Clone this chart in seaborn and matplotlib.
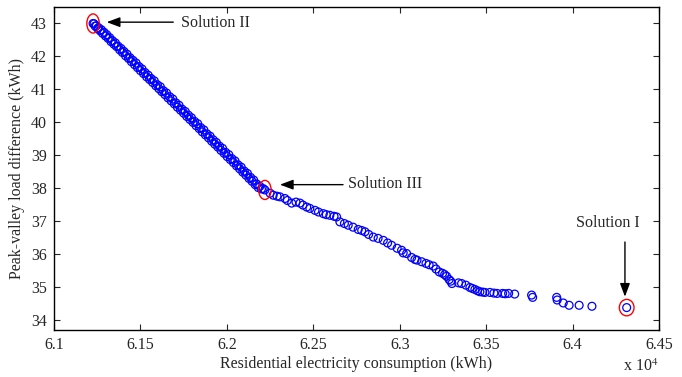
import matplotlib
matplotlib.use("Agg")
import matplotlib.pyplot as plt
from matplotlib.patches import Ellipse
import seaborn as sns
import pandas as pd

# ---- data (x in kWh, y in kWh) ----
x_dense = [61226, 61232, 61238, 61245, 61252, 61258, 61266, 61274, 61281, 61290,
           61298, 61305, 61313, 61322, 61330, 61338, 61347, 61355, 61362, 61371,
           61380, 61388, 61396, 61405, 61414, 61422, 61431, 61440, 61448, 61457,
           61466, 61475, 61483, 61492, 61500, 61509, 61518, 61527, 61536, 61545,
           61553, 61562, 61571, 61580, 61589, 61598, 61607, 61615, 61624, 61633,
           61642, 61651, 61660, 61669, 61678, 61687, 61696, 61705, 61714, 61723,
           61732, 61741, 61750, 61759, 61768, 61777, 61786, 61795, 61804, 61813,
           61822, 61831, 61840, 61849, 61858, 61867, 61876, 61885, 61894, 61903,
           61912, 61921, 61930, 61939, 61948, 61957, 61966, 61975, 61984, 61993,
           62002, 62011, 62020, 62029, 62038, 62047, 62056, 62065, 62074, 62083,
           62092, 62101, 62110, 62119, 62128, 62137, 62146, 62155, 62164, 62173,
           62182, 62191, 62200, 62210, 62220]
y_dense = [43.00, 42.99, 42.92, 42.93, 42.85, 42.87, 42.78, 42.81, 42.70, 42.73,
           42.62, 42.66, 42.55, 42.57, 42.45, 42.48, 42.37, 42.41, 42.30, 42.31,
           42.20, 42.24, 42.12, 42.15, 42.02, 42.07, 41.94, 41.96, 41.84, 41.88,
           41.75, 41.80, 41.66, 41.69, 41.57, 41.62, 41.48, 41.51, 41.38, 41.43,
           41.30, 41.33, 41.21, 41.26, 41.11, 41.14, 41.02, 41.08, 40.93, 40.96,
           40.84, 40.89, 40.74, 40.78, 40.65, 40.71, 40.56, 40.59, 40.46, 40.52,
           40.37, 40.40, 40.28, 40.33, 40.18, 40.22, 40.09, 40.14, 40.00, 40.03,
           39.90, 39.96, 39.81, 39.84, 39.71, 39.77, 39.62, 39.65, 39.53, 39.58,
           39.43, 39.47, 39.34, 39.39, 39.25, 39.28, 39.15, 39.21, 39.06, 39.09,
           38.96, 39.02, 38.87, 38.90, 38.78, 38.83, 38.68, 38.71, 38.59, 38.64,
           38.49, 38.52, 38.40, 38.45, 38.30, 38.33, 38.21, 38.25, 38.11, 38.13,
           38.02, 38.06, 37.98, 37.99, 37.95]

x_sparse = [62250, 62268, 62290, 62307, 62336, 62350, 62375, 62400, 62423, 62440,
            62462, 62480, 62510, 62530, 62558, 62575, 62596, 62620, 62635, 62654,
            62680, 62702, 62730, 62760, 62780, 62799, 62820, 62847, 62875, 62905,
            62930, 62953, 62985, 63011, 63020, 63040, 63069, 63088, 63100, 63127,
            63152, 63170, 63194, 63210, 63229, 63248, 63260, 63271, 63286, 63295,
            63302, 63340, 63358, 63383, 63406, 63420, 63435, 63450, 63464, 63480,
            63493, 63522, 63545, 63564, 63595, 63610, 63630, 63665, 63763, 63769,
            63908, 63911, 63946, 63980, 64038, 64112, 64313]
y_sparse = [37.85, 37.79, 37.76, 37.74, 37.69, 37.63, 37.55, 37.58, 37.55, 37.49,
            37.43, 37.39, 37.33, 37.28, 37.23, 37.20, 37.18, 37.15, 37.13, 36.98,
            36.93, 36.88, 36.82, 36.75, 36.72, 36.68, 36.60, 36.52, 36.48, 36.42,
            36.34, 36.27, 36.18, 36.12, 36.04, 36.02, 35.90, 35.84, 35.82, 35.77,
            35.72, 35.68, 35.64, 35.55, 35.46, 35.42, 35.38, 35.33, 35.23, 35.18,
            35.11, 35.13, 35.11, 35.06, 34.99, 34.96, 34.93, 34.89, 34.86, 34.85,
            34.84, 34.84, 34.82, 34.81, 34.81, 34.80, 34.81, 34.79, 34.76, 34.69,
            34.69, 34.61, 34.52, 34.45, 34.45, 34.42, 34.38]

sol_names = ["Solution I", "Solution II", "Solution III"]
sol_x = [64313, 61226, 62220]
sol_y = [34.38, 43.00, 37.95]

x_ticks = [61000, 61500, 62000, 62500, 63000, 63500, 64000, 64500]
x_tick_labels = ["6.1", "6.15", "6.2", "6.25", "6.3", "6.35", "6.4", "6.45"]
y_ticks = [34, 35, 36, 37, 38, 39, 40, 41, 42, 43]

df = pd.DataFrame({"x": x_dense + x_sparse, "y": y_dense + y_sparse})

sns.set_style("ticks")
plt.rcParams["font.family"] = ["Liberation Serif", "DejaVu Serif"]
plt.rcParams["mathtext.fontset"] = "stix"

fig = plt.figure(figsize=(6.82, 3.77), dpi=100)
ax = fig.add_axes([54 / 682, 1 - 330 / 377, 605 / 682, 323 / 377])

sns.scatterplot(data=df, x="x", y="y", ax=ax, marker="o", s=32,
                facecolors="none", edgecolor="#0000ff", linewidth=0.9)

# red highlight ellipses
ell_w = [85, 72, 72]
ell_h = [0.50, 0.58, 0.58]
for xs, ys, w, h in zip(sol_x, sol_y, ell_w, ell_h):
    ax.add_patch(Ellipse((xs, ys), w, h, fill=False, edgecolor="red", linewidth=1.0, zorder=5))

arrowprops = dict(arrowstyle="-|>,head_length=0.8,head_width=0.3", color="black", lw=1.0,
                  shrinkA=0, shrinkB=0)
fs = 11.5
# Solution II
ax.annotate("", xy=(61305, 43.04), xytext=(61690, 43.04), arrowprops=arrowprops)
ax.text(61733, 43.0, sol_names[1], fontsize=fs, va="center", ha="left")
# Solution III
ax.annotate("", xy=(62307, 38.11), xytext=(62672, 38.11), arrowprops=arrowprops)
ax.text(62702, 38.14, sol_names[2], fontsize=fs, va="center", ha="left")
# Solution I
ax.annotate("", xy=(64303, 34.71), xytext=(64303, 36.37), arrowprops=arrowprops)
ax.text(64203, 36.95, sol_names[0], fontsize=fs, va="center", ha="center")

ax.set_xlim(61000, 64500)
ax.set_ylim(33.7, 43.5)
ax.set_xticks(x_ticks)
ax.set_xticklabels(x_tick_labels)
ax.set_yticks(y_ticks)
ax.tick_params(direction="in", top=True, right=True, labelsize=fs, length=4, width=0.8, pad=5)
for sp in ax.spines.values():
    sp.set_linewidth(1.0)
    sp.set_color("black")

ax.set_xlabel("Residential electricity consumption (kWh)", fontsize=fs, labelpad=2)
ax.set_ylabel("Peak-valley load difference (kWh)", fontsize=fs, labelpad=4)
fig.text(641 / 682, 1 - 367 / 377, r"x 10$^{4}$", fontsize=fs, ha="center", va="center")

fig.savefig("out.png", dpi=100, facecolor="white")
